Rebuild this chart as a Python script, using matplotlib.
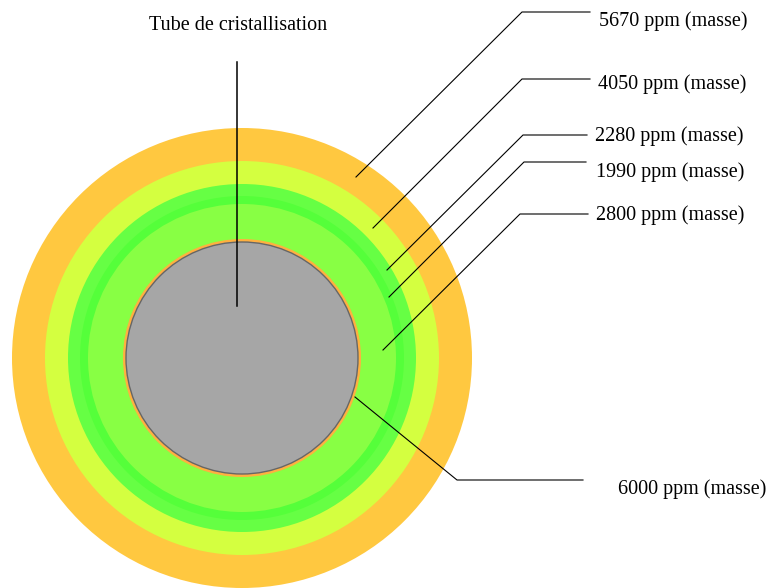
import matplotlib.pyplot as plt
from matplotlib.patches import Circle

# rings, outer to inner (radius in px of the drawing)
ring_radius = [230, 197, 174, 162, 154, 119]
ring_colors = ['#FFC840', '#D4FF40', '#66FF44', '#55FF3A', '#88FF44', '#FFB040']
tube_radius = 116

labels = ['5670 ppm (masse)', '4050 ppm (masse)', '2280 ppm (masse)',
          '1990 ppm (masse)', '2800 ppm (masse)', '6000 ppm (masse)']
# leader lines: start on ring, elbow, end of horizontal part
starts = [(356, 177), (373, 228), (387, 270), (389, 297), (383, 350), (355, 397)]
elbows = [(522, 12), (522, 79), (523, 135), (524, 162), (520, 214), (457, 480)]
ends_x = [590, 590, 587, 586, 588, 583]
text_pos = [(599, 21), (598, 84), (595, 136), (596, 172), (596, 215), (618, 489)]

cx, cy = 242, 358

plt.rcParams['font.family'] = ['Liberation Serif', 'DejaVu Serif']

fig = plt.figure(figsize=(7.7, 5.88), dpi=100)
ax = fig.add_axes([0, 0, 1, 1])
ax.set_xlim(0, 770)
ax.set_ylim(588, 0)
ax.set_aspect('equal')
ax.axis('off')

for r, c in zip(ring_radius, ring_colors):
    ax.add_patch(Circle((cx, cy), r, facecolor=c, edgecolor='none'))
ax.add_patch(Circle((cx, cy), tube_radius, facecolor='#A6A6A6', edgecolor='#666666', lw=1.0))

# tube label
ax.plot([237, 237], [62, 306], color='black', lw=1.1)
ax.text(238, 26, 'Tube de cristallisation', ha='center', va='center', fontsize=14.5)

for lab, s, e, xe, tp in zip(labels, starts, elbows, ends_x, text_pos):
    ax.plot([s[0], e[0], xe], [s[1], e[1], e[1]], color='black', lw=0.8)
    ax.text(tp[0], tp[1], lab, ha='left', va='center', fontsize=14.5)

fig.savefig('out.png', dpi=100)
